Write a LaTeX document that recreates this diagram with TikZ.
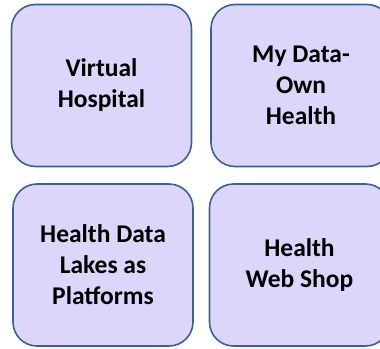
\documentclass[tikz,border=0pt]{standalone}
\usepackage{fontspec}
\setmainfont{Carlito}
\usepackage{tikz}
\definecolor{tilefill}{HTML}{DDD6FB}
\definecolor{tileline}{HTML}{3C5F98}

\begin{document}
\begin{tikzpicture}[x=1pt, y=1pt]
      \clip (0, 0) rectangle (380, -348);

      {\tikzstyle{every node}=[rectangle, draw=tileline, fill=tilefill,
          line width=1.6pt, rounded corners=24pt, align=center,
          minimum width=180pt, minimum height=162pt,
          font=\bfseries\fontsize{25.5}{31}\selectfont]
        \foreach \n/\x/\y/\t in {vh/101.5/-85.5/{Virtual\\Hospital},
                                  mdo/301/-85.5/{My Data-\\Own\\Health},
                                  hdl/103/-265/{Health Data\\Lakes as\\Platforms},
                                  hws/299.5/-265/{Health\\Web Shop}}
        {
          \node (\n) at (\x, \y) {\t};
        }
      }
    \end{tikzpicture}
\end{document}
